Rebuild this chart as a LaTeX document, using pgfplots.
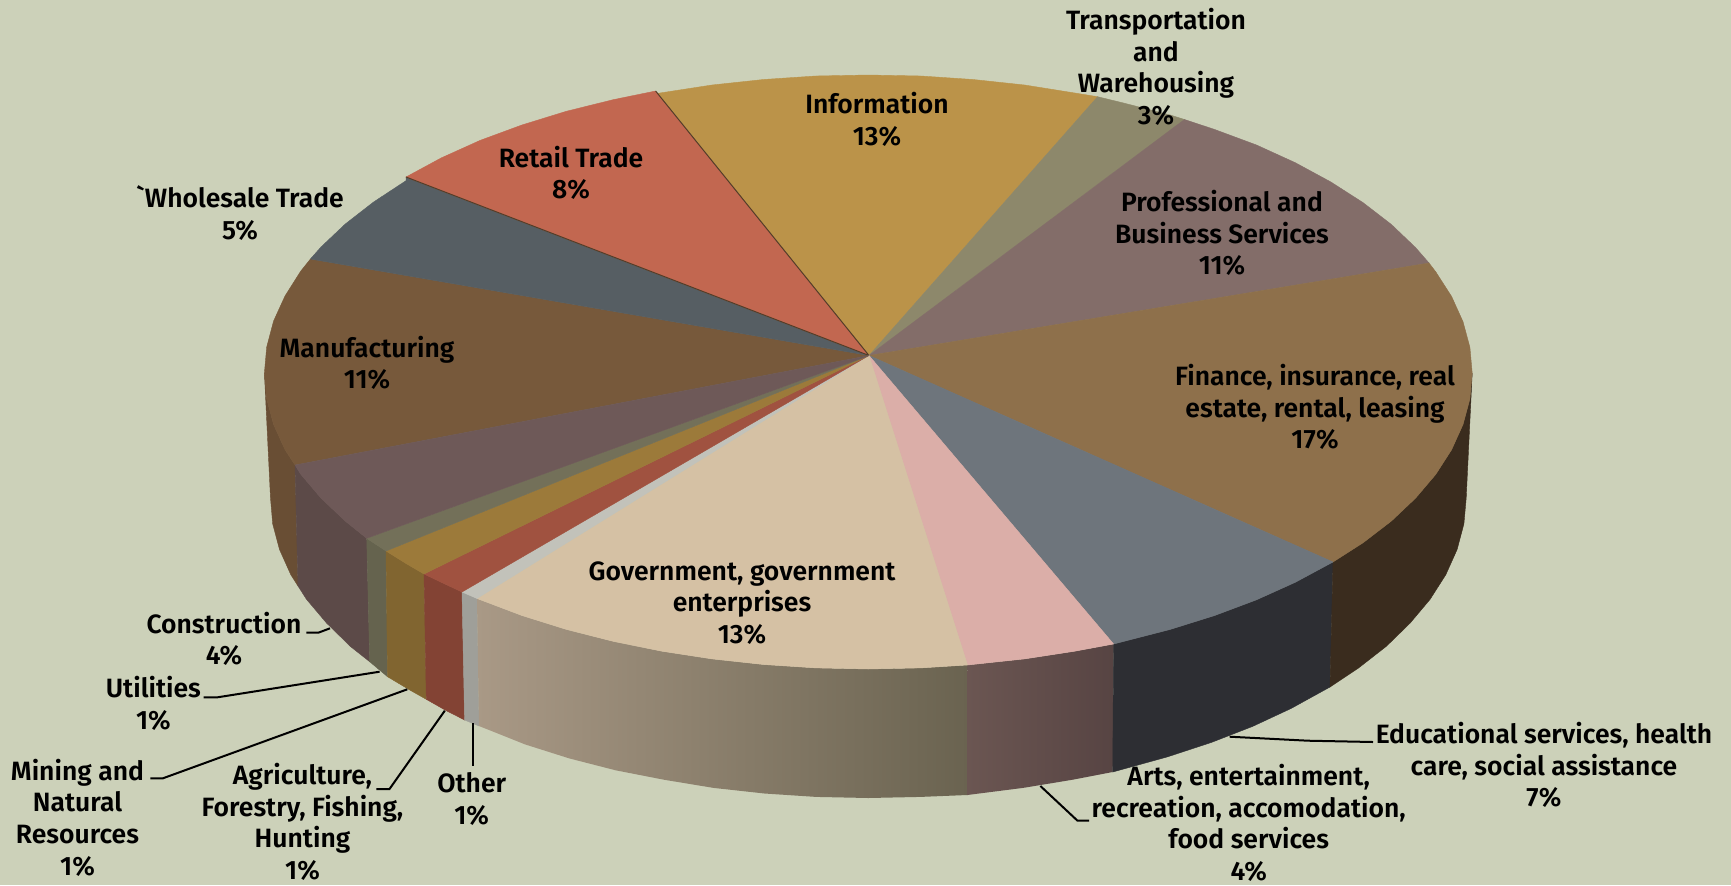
\documentclass[border=0pt]{standalone}
\usepackage{fontspec}
\setmainfont{Fira Sans}[UprightFont=* SemiBold]
\newfontfamily\plainf{Fira Sans}[UprightFont=* SemiBold]
\usepackage{pgfplots}
\pgfplotsset{compat=1.18}
\definecolor{bg}{HTML}{CCD1B9}
\definecolor{cMan}{HTML}{77593B}
\definecolor{cWho}{HTML}{565E63}
\definecolor{cRet}{HTML}{C26750}
\definecolor{cInf}{HTML}{BB9349}
\definecolor{cTra}{HTML}{8D886B}
\definecolor{cPro}{HTML}{836D69}
\definecolor{cFin}{HTML}{8E704B}
\definecolor{cEdu}{HTML}{6E757C}
\definecolor{cArt}{HTML}{DBAEA8}
\definecolor{cGov}{HTML}{D5C1A4}
\definecolor{cOth}{HTML}{C2C2BA}
\definecolor{cAgr}{HTML}{A05240}
\definecolor{cMin}{HTML}{9C7A3A}
\definecolor{cUti}{HTML}{737059}
\definecolor{cCon}{HTML}{6E5958}
\definecolor{sEdu}{HTML}{2D2E33}
\definecolor{sFin}{HTML}{3A2C1E}
\definecolor{sCon}{HTML}{5C4A48}
\definecolor{gA}{HTML}{A99986}
\definecolor{gB}{HTML}{8D816F}
\definecolor{gC}{HTML}{6A6350}
\definecolor{aA}{HTML}{6B5652}
\definecolor{aB}{HTML}{574443}
\tikzset{lbl/.style={align=center,text=black,font=\fontsize{13.25}{15.8}\selectfont},
 lead/.style={black,line width=1pt},
 wedge/.style={fill=#1,draw=#1,line width=.2pt}}
\begin{document}
\begin{tikzpicture}
\begin{axis}[width=865.5pt,height=442.5pt,scale only axis,
 xmin=0,xmax=1731,ymin=0,ymax=885,y dir=reverse,
 axis line style={draw=none},ticks=none,axis background/.style={fill=bg},
 no markers]
% sides
\addplot[wedge=cMan!88!black] coordinates {(295,465)(285,449.7)(273.6,424.5)(266.7,398.9)(264.4,373.1)(270.5,498.1)(272.7,523.9)(279.5,549.5)(290.8,574.7)(298,586)} --cycle;
\addplot[wedge=sCon] coordinates {(366.7,538.3)(345.3,521.1)(321,498.1)(300.8,474.3)(295,465)(298,586)(306.5,599.3)(326.6,623.1)(350.5,646.5)(369.7,661.7)} --cycle;
\addplot[wedge=cUti!88!black] coordinates {(366.7,538.3)(386,551)(387.5,676.7)(369.7,661.7)} --cycle;
\addplot[wedge=cMin!83!black] coordinates {(386,551)(405.7,563.3)(424,574)(426.3,699.3)(410.3,690.3)(387.5,676.7)} --cycle;
\addplot[wedge=cAgr!82!black] coordinates {(424,574)(441.3,582.3)(462,592)(464.6,720)(445.6,710.3)(426.3,699.3)} --cycle;
\addplot[wedge=cOth!82!black] coordinates {(462,592)(477,598.5)(479,726)(464.6,720)} --cycle;
\addplot[draw=none,left color=gA,middle color=gB,right color=gC] coordinates {(477,598.5)(521.9,615.5)(566.3,629.4)(613.1,641.3)(661.8,651.2)(712,658.9)(763.5,664.5)(815.6,667.9)(868.3,669)(921,667.9)(967.5,665)(967.3,795)(920.5,796.9)(868.3,798)(816.1,796.9)(764.5,793.5)(713.6,787.9)(663.9,779.7)(615.7,770.3)(569.3,758.4)(525.4,744.5)(479,726)} --cycle;
\addplot[draw=none,left color=aA,right color=aB] coordinates {(967.5,665)(1024.6,658.9)(1074.8,651.2)(1113.6,644)(1112.7,772)(1072.7,779.7)(1023,787.9)(967.3,795)} --cycle;
\addplot[wedge=sEdu] coordinates {(1113.6,644)(1170.3,629.4)(1214.7,615.5)(1256.5,599.8)(1295.3,582.3)(1333,562)(1330,687)(1291,708.5)(1252.6,726.4)(1211.2,742.5)(1167.3,756.9)(1112.7,772)} --cycle;
\addplot[wedge=sFin] coordinates {(1333,562)(1363,542.8)(1391.3,521.1)(1415.6,498.1)(1435.8,474.3)(1451.6,449.7)(1463,424.5)(1469.9,398.9)(1472.2,373.1)(1466.2,498.1)(1463.9,523.9)(1457.1,549.5)(1445.8,574.7)(1430.1,599.3)(1410.1,623.1)(1386.1,646.5)(1358.1,668.3)(1330,687)} --cycle;
% top face
\addplot[wedge=cMan] coordinates {(869,355.5)(310.4,259)(300.8,271)(285,296)(273.6,321)(266.7,347)(264.4,373.1)(266.7,398.9)(273.6,424.5)(285,449.7)(295,465)} --cycle;
\addplot[wedge=cWho] coordinates {(869,355.5)(406,177)(406,180.7)(373.6,202)(345.3,224)(321,247)(310.4,259)} --cycle;
\addplot[wedge=cInf] coordinates {(869,355.5)(658,93.3)(712,85)(763.5,79.5)(815.6,76)(868.3,75)(921,76)(973.1,79.5)(1024.6,85)(1074.8,93)(1097.6,96.7)} --cycle;
\addplot[wedge=cRet] coordinates {(869,355.5)(406,177)(441.3,157.9)(480.1,140.4)(521.9,125)(566.3,111.3)(613.1,99.7)(655.6,91)} --cycle;
\addplot[color=cMan!70!black,line width=.5pt] coordinates {(406,177)(869,355.5)(655.6,91)};
\addplot[wedge=cTra] coordinates {(869,355.5)(1097.6,96.7)(1123.5,103)(1170.3,115)(1184.5,119.5)} --cycle;
\addplot[wedge=cPro] coordinates {(869,355.5)(1184.5,119.5)(1214.7,129.5)(1256.5,145)(1295.3,162.7)(1330.9,182)(1363,202.6)(1391.3,224.4)(1415.6,247.6)(1429,263)} --cycle;
\addplot[wedge=cFin] coordinates {(869,355.5)(1429,263)(1435.8,271.9)(1451.6,296.5)(1463,321.7)(1469.9,347.3)(1472.2,373.1)(1469.9,398.9)(1463,424.5)(1451.6,449.7)(1435.8,474.3)(1415.6,498.1)(1391.3,521.1)(1363,542.8)(1333,562)} --cycle;
\addplot[wedge=cEdu] coordinates {(869,355.5)(1333,562)(1295.3,582.3)(1256.5,599.8)(1214.7,615.5)(1170.3,629.4)(1113.6,644)} --cycle;
\addplot[wedge=cArt] coordinates {(869,355.5)(1113.6,644)(1074.8,651.2)(1024.6,658.9)(967.5,665)} --cycle;
\addplot[wedge=cGov] coordinates {(869,355.5)(967.5,665)(921,667.9)(868.3,669)(815.6,667.9)(763.5,664.5)(712,658.9)(661.8,651.2)(613.1,641.3)(566.3,629.4)(521.9,615.5)(477,598.5)} --cycle;
\addplot[wedge=cOth] coordinates {(869,355.5)(477,598.5)(462,592)} --cycle;
\addplot[wedge=cAgr] coordinates {(869,355.5)(462,592)(441.3,582.3)(424,574)} --cycle;
\addplot[wedge=cMin] coordinates {(869,355.5)(424,574)(405.7,563.3)(386,551)} --cycle;
\addplot[wedge=cUti] coordinates {(869,355.5)(386,551)(366.7,538.3)} --cycle;
\addplot[wedge=cCon] coordinates {(869,355.5)(366.7,538.3)(345.3,521.1)(321,498.1)(300.8,474.3)(295,465)} --cycle;
% leader lines
\addplot[lead] coordinates {(306.4,632.7)(318.3,632.7)(330,628.3)};
\addplot[lead] coordinates {(203.6,697.3)(217.5,697.3)(379.6,671.7)};
\addplot[lead] coordinates {(150.3,778.3)(162.9,778.3)(407.3,689.3)};
\addplot[lead] coordinates {(376.4,789)(389.5,789)(444.8,710.7)};
\addplot[lead] coordinates {(472.5,723.3)(472.5,766)};
\addplot[lead] coordinates {(1040.4,786)(1077.5,820.7)(1089.2,820.7)};
\addplot[lead] coordinates {(1229.6,736.7)(1308,740.7)(1373,742)};
% labels
\node[lbl] at (axis cs:1156,67) {Transportation\\and\\Warehousing\\3\%};
\node[lbl] at (axis cs:877,119.5) {Information\\13\%};
\node[lbl] at (axis cs:571,173) {Retail Trade\\8\%};
\node[lbl] at (axis cs:240,213) {{\plainf `}Wholesale Trade\\5\%};
\node[lbl] at (axis cs:1222,233) {Professional and\\Business Services\\11\%};
\node[lbl] at (axis cs:1315,407) {Finance, insurance, real\\estate, rental, leasing\\17\%};
\node[lbl] at (axis cs:367,363) {Manufacturing\\11\%};
\node[lbl] at (axis cs:742,603) {Government, government\\enterprises\\13\%};
\node[lbl] at (axis cs:224,639) {Construction\\4\%};
\node[lbl] at (axis cs:153.4,703.5) {Utilities\\1\%};
\node[lbl] at (axis cs:77.5,817.5) {Mining and\\Natural\\Resources\\1\%};
\node[lbl] at (axis cs:302.5,822) {Agriculture,\\Forestry, Fishing,\\Hunting\\1\%};
\node[lbl] at (axis cs:471.7,799) {Other\\1\%};
\node[lbl] at (axis cs:1544,765) {Educational services, health\\care, social assistance\\7\%};
\node[lbl] at (axis cs:1248.7,823) {Arts, entertainment,\\recreation, accomodation,\\food services\\4\%};
\end{axis}
\end{tikzpicture}
\end{document}
